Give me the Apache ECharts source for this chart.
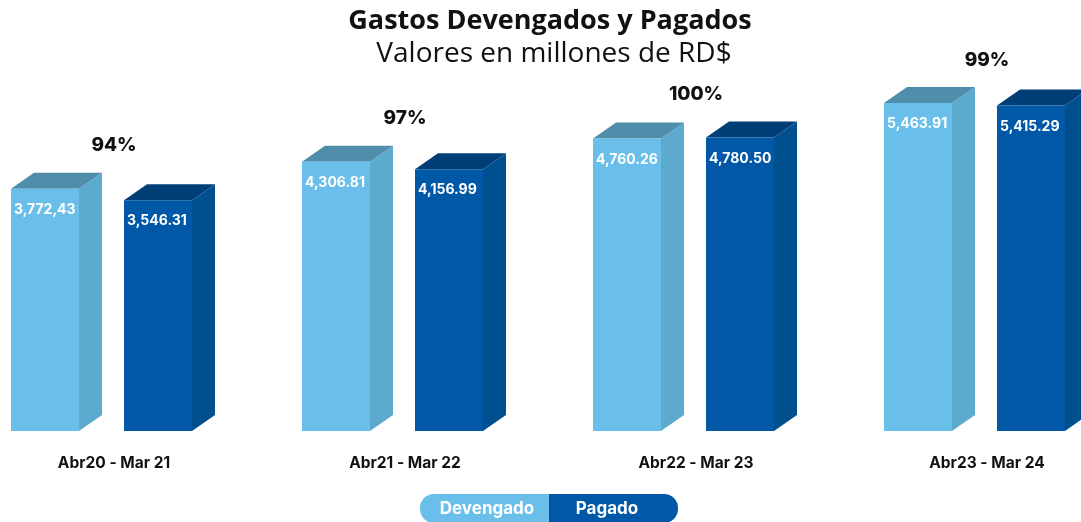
<!DOCTYPE html>
<html>
<head>
<meta charset="utf-8">
<title>Gastos Devengados y Pagados</title>
<script src="https://cdn.jsdelivr.net/npm/echarts@6/dist/echarts.min.js"></script>
<style>
    html, body { margin: 0; padding: 0; background: #fff; }
    #main { width: 1081px; height: 522px; }
</style>
</head>
<body>
<div id="main"></div>
<script>
// datos del grafico
var periodos = ['Abr20 - Mar 21', 'Abr21 - Mar 22', 'Abr22 - Mar 23', 'Abr23 - Mar 24'];
var devengado = [3772.43, 4306.81, 4760.26, 5463.91];
var pagado = [3546.31, 4156.99, 4780.50, 5415.29];
var devengadoTxt = ['3,772,43', '4,306.81', '4,760.26', '5,463.91'];
var pagadoTxt = ['3,546.31', '4,156.99', '4,780.50', '5,415.29'];
var porcentaje = ['94%', '97%', '100%', '99%'];

var Y_MIN = -1000;
var DX = 23, DY = 16, ANCHO = 68;

var colDev = { front: '#69BFEA', side: '#5DAACF', top: '#508DAB' };
var colPag = { front: '#0058A6', side: '#00508F', top: '#003E78' };

/**
 * barra 3d
 */
function barra3d(offset, colores, textos) {
    return function (params, api) {
        var idx = api.value(0);
        var p = api.coord([idx, api.value(1)]);
        var base = api.coord([idx, Y_MIN]);
        var fl = p[0] + offset, fr = fl + ANCHO, top = p[1], bot = base[1];
        return {
            type: 'group',
            children: [
                {
                    type: 'polygon',
                    shape: { points: [[fr, top], [fr + DX, top - DY], [fr + DX, bot - DY], [fr, bot]] },
                    style: { fill: colores.side }
                },
                {
                    type: 'polygon',
                    shape: { points: [[fl, top], [fl + DX, top - DY], [fr + DX, top - DY], [fr, top]] },
                    style: { fill: colores.top }
                },
                {
                    type: 'rect',
                    shape: { x: fl, y: top, width: ANCHO, height: bot - top },
                    style: { fill: colores.front }
                },
                {
                    type: 'text',
                    x: fl + 3,
                    y: top + 21,
                    style: {
                        text: textos[idx],
                        fill: '#fff',
                        font: 'bold 14px Inter, sans-serif',
                        verticalAlign: 'middle'
                    }
                }
            ]
        };
    };
}

var maximos = devengado.map(function (v, i) { return Math.max(v, pagado[i]); });

var myChart = echarts.init(document.getElementById('main'));
var option = {
    animation: false,
    title: [
        {
            text: 'Gastos Devengados y Pagados',
            left: 545,
            top: 3,
            textAlign: 'center',
            textStyle: { fontFamily: 'Open Sans', fontWeight: 'bold', fontSize: 27, color: '#111' }
        },
        {
            text: 'Valores en millones de RD$',
            left: 549,
            top: 35,
            textAlign: 'center',
            textStyle: { fontFamily: 'Open Sans', fontWeight: 'normal', fontSize: 28, color: '#111' }
        }
    ],
    grid: { left: 114, right: 94, top: 96, bottom: 91 },
    xAxis: {
        type: 'category',
        boundaryGap: false,
        data: periodos,
        axisLine: { show: false },
        axisTick: { show: false },
        axisLabel: {
            margin: 24,
            color: '#111',
            fontFamily: 'Inter',
            fontWeight: 'bold',
            fontSize: 15.5
        }
    },
    yAxis: {
        type: 'value',
        min: Y_MIN,
        max: 5600,
        show: false
    },
    series: [
        {
            name: 'Devengado',
            type: 'custom',
            renderItem: barra3d(-103, colDev, devengadoTxt),
            data: devengado.map(function (v, i) { return [i, v]; })
        },
        {
            name: 'Pagado',
            type: 'custom',
            renderItem: barra3d(10, colPag, pagadoTxt),
            data: pagado.map(function (v, i) { return [i, v]; })
        },
        {
            name: 'Porcentaje',
            type: 'custom',
            renderItem: function (params, api) {
                var idx = api.value(0);
                var p = api.coord([idx, api.value(1)]);
                return {
                    type: 'text',
                    x: p[0],
                    y: p[1] - DY - 27,
                    style: {
                        text: porcentaje[idx],
                        fill: '#111',
                        font: '800 19px Inter, sans-serif',
                        align: 'center',
                        verticalAlign: 'middle'
                    }
                };
            },
            data: maximos.map(function (v, i) { return [i, v]; })
        }
    ],
    graphic: [
        {
            type: 'group',
            left: 420,
            top: 494,
            children: [
                { type: 'rect', shape: { x: 0, y: 0, width: 160, height: 29, r: [14, 0, 0, 14] }, style: { fill: colDev.front } },
                { type: 'rect', shape: { x: 129, y: 0, width: 129, height: 29, r: [0, 14, 14, 0] }, style: { fill: colPag.front } },
                { type: 'text', x: 67, y: 15, style: { text: 'Devengado', fill: '#fff', font: 'bold 17px Inter, sans-serif', align: 'center', verticalAlign: 'middle' } },
                { type: 'text', x: 187, y: 15, style: { text: 'Pagado', fill: '#fff', font: 'bold 17px Inter, sans-serif', align: 'center', verticalAlign: 'middle' } }
            ]
        }
    ]
};
myChart.setOption(option);
</script>
</body>
</html>
